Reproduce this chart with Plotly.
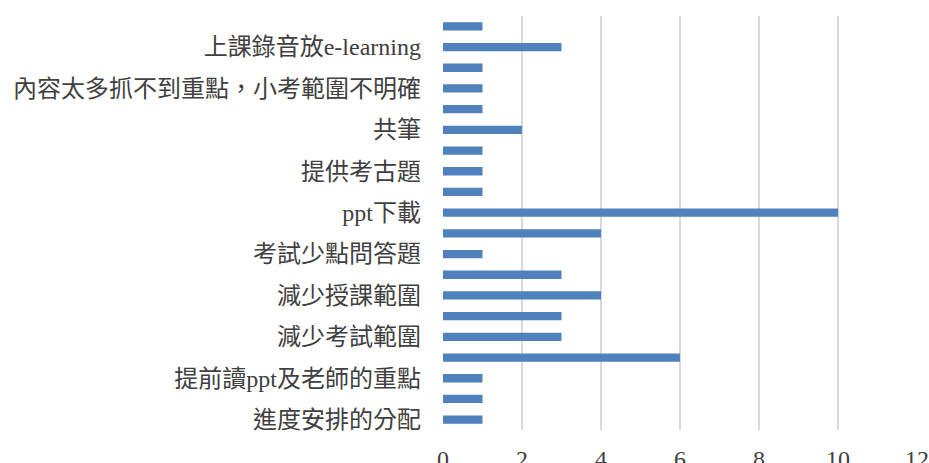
import plotly.graph_objects as go

# Responses per suggestion, listed bottom to top; only every other category is labelled
counts = [1, 1, 1, 6, 3, 3, 4, 3, 1, 4, 10, 1, 1, 1, 2, 1, 1, 1, 3, 1]
labelled_positions = [0, 2, 4, 6, 8, 10, 12, 14, 16, 18]
labels = [
    "進度安排的分配",
    "提前讀ppt及老師的重點",
    "減少考試範圍",
    "減少授課範圍",
    "考試少點問答題",
    "ppt下載",
    "提供考古題",
    "共筆",
    "內容太多抓不到重點，小考範圍不明確",
    "上課錄音放e-learning",
]
x_ticks = [0, 2, 4, 6, 8, 10, 12]

font_family = "Liberation Serif, Noto Sans CJK TC, serif"

fig = go.Figure(
    go.Bar(
        x=counts,
        y=list(range(len(counts))),
        orientation="h",
        width=0.4,
        marker=dict(color="#4F81BD", line=dict(width=0)),
    )
)

fig.update_layout(
    width=929,
    height=463,
    margin=dict(l=443, r=12, t=16, b=33),
    paper_bgcolor="white",
    plot_bgcolor="white",
    showlegend=False,
    font=dict(family=font_family, color="#404040"),
)

fig.update_xaxes(
    range=[0, 12],
    tickvals=x_ticks,
    showgrid=True,
    gridcolor="#D9D9D9",
    gridwidth=1.5,
    zeroline=False,
    showline=False,
    automargin=False,
    tickfont=dict(size=24, color="#404040"),
    ticklabelstandoff=12,
)

fig.update_yaxes(
    range=[-0.5, len(counts) - 0.5],
    tickvals=labelled_positions,
    ticktext=labels,
    showgrid=False,
    zeroline=False,
    showline=False,
    automargin=False,
    tickfont=dict(size=24, color="#404040"),
    ticklabelstandoff=21,
)

fig.write_html("out.html")
